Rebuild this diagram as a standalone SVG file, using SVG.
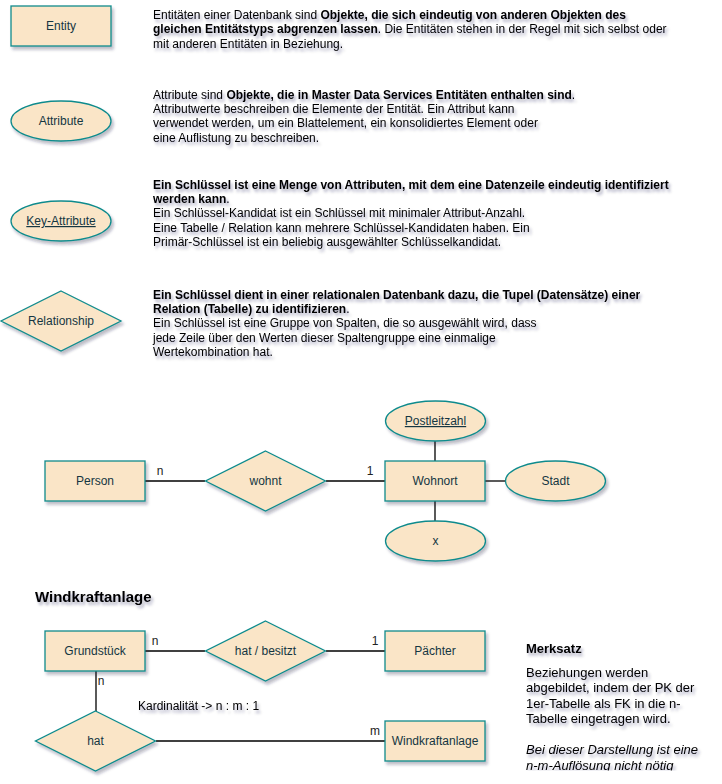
<svg xmlns="http://www.w3.org/2000/svg" width="722" height="784" viewBox="0 0 722 784">
<defs>
  <filter id="sh" x="-20%" y="-30%" width="150%" height="170%">
    <feDropShadow dx="2" dy="3" stdDeviation="1.5" flood-color="#1a2440" flood-opacity="0.3"/>
  </filter>
  <filter id="tsh" x="-10%" y="-30%" width="120%" height="170%">
    <feDropShadow dx="2" dy="3" stdDeviation="1.5" flood-color="#1a2440" flood-opacity="0.35"/>
  </filter>
  <clipPath id="clipBottom"><rect x="0" y="0" width="722" height="770.5"/></clipPath>
</defs>
<style>
  .shape { fill: #FAE5C7; stroke: #0F8B8D; stroke-width: 1.3; filter: url(#sh); }
  .lbl { font-family: "Liberation Sans", Arial, sans-serif; font-size: 12px; fill: #143642; text-anchor: middle; }
  .desc { font-family: "Liberation Sans", Arial, sans-serif; font-size: 12px; fill: #000; filter: url(#tsh); }
  .b { font-weight: bold; }
  .card { font-family: "Liberation Sans", Arial, sans-serif; font-size: 12px; fill: #222222; }
  .conn { stroke: #000; stroke-width: 1.3; fill: none; }
  .u { text-decoration: underline; }
</style>

<!-- Legend nodes -->
<g id="legend-entity">
  <rect class="shape" x="11" y="6" width="100" height="40"/>
  <text class="lbl" x="61" y="30">Entity</text>
</g>
<g id="legend-attribute">
  <ellipse class="shape" cx="61" cy="121" rx="50" ry="20"/>
  <text class="lbl" x="61" y="125">Attribute</text>
</g>
<g id="legend-key-attribute">
  <ellipse class="shape" cx="61" cy="221" rx="50" ry="20"/>
  <text class="lbl u" x="61" y="225">Key-Attribute</text>
</g>
<g id="legend-relationship">
  <polygon class="shape" points="61,291 121,321 61,351 1,321"/>
  <text class="lbl" x="61" y="325">Relationship</text>
</g>

<!-- Descriptions -->
<g id="desc-entity" class="desc">
  <text x="153" y="19">Entitäten einer Datenbank sind <tspan class="b">Objekte, die sich eindeutig von anderen Objekten des</tspan></text>
  <text x="153" y="33.4"><tspan class="b">gleichen Entitätstyps abgrenzen lassen</tspan>. Die Entitäten stehen in der Regel mit sich selbst oder</text>
  <text x="153" y="47.8">mit anderen Entitäten in Beziehung.</text>
</g>
<g id="desc-attribute" class="desc">
  <text x="153" y="98.6">Attribute sind <tspan class="b">Objekte, die in Master Data Services Entitäten enthalten sind</tspan>.</text>
  <text x="153" y="113">Attributwerte beschreiben die Elemente der Entität. Ein Attribut kann</text>
  <text x="153" y="127.4">verwendet werden, um ein Blattelement, ein konsolidiertes Element oder</text>
  <text x="153" y="141.8">eine Auflistung zu beschreiben.</text>
</g>
<g id="desc-key" class="desc">
  <text x="153" y="188.6" class="b">Ein Schlüssel ist eine Menge von Attributen, mit dem eine Datenzeile eindeutig identifiziert</text>
  <text x="153" y="203"><tspan class="b">werden kann</tspan>.</text>
  <text x="153" y="217.4">Ein Schlüssel-Kandidat ist ein Schlüssel mit minimaler Attribut-Anzahl.</text>
  <text x="153" y="231.8">Eine Tabelle / Relation kann mehrere Schlüssel-Kandidaten haben. Ein</text>
  <text x="153" y="246.2">Primär-Schlüssel ist ein beliebig ausgewählter Schlüsselkandidat.</text>
</g>
<g id="desc-relationship" class="desc">
  <text x="153" y="298.6" class="b">Ein Schlüssel dient in einer relationalen Datenbank dazu, die Tupel (Datensätze) einer</text>
  <text x="153" y="313"><tspan class="b">Relation (Tabelle) zu identifizieren</tspan>.</text>
  <text x="153" y="327.4">Ein Schlüssel ist eine Gruppe von Spalten, die so ausgewählt wird, dass</text>
  <text x="153" y="341.8">jede Zeile über den Werten dieser Spaltengruppe eine einmalige</text>
  <text x="153" y="356.2">Wertekombination hat.</text>
</g>

<!-- Connectors -->
<g id="connectors">
  <line class="conn" x1="145" y1="481" x2="205" y2="481"/>
  <line class="conn" x1="326" y1="481" x2="385" y2="481"/>
  <line class="conn" x1="435" y1="441" x2="435" y2="461"/>
  <line class="conn" x1="485" y1="481" x2="505" y2="481"/>
  <line class="conn" x1="435" y1="501" x2="435" y2="521"/>
  <line class="conn" x1="145" y1="651" x2="205" y2="651"/>
  <line class="conn" x1="326" y1="651" x2="385" y2="651"/>
  <line class="conn" x1="96" y1="671" x2="96" y2="711"/>
  <line class="conn" x1="156" y1="741" x2="385" y2="741"/>
</g>

<!-- Example 1 -->
<g id="person">
  <rect class="shape" x="45" y="461" width="100" height="40"/>
  <text class="lbl" x="95" y="485">Person</text>
</g>
<g id="wohnt">
  <polygon class="shape" points="265.5,451 325.5,481 265.5,511 205.5,481"/>
  <text class="lbl" x="265.5" y="485">wohnt</text>
</g>
<g id="wohnort">
  <rect class="shape" x="385" y="461" width="100" height="40"/>
  <text class="lbl" x="435" y="485">Wohnort</text>
</g>
<g id="postleitzahl">
  <ellipse class="shape" cx="435.5" cy="421" rx="50" ry="20"/>
  <text class="lbl u" x="435.5" y="425">Postleitzahl</text>
</g>
<g id="stadt">
  <ellipse class="shape" cx="555.5" cy="481" rx="50" ry="20"/>
  <text class="lbl" x="555.5" y="485">Stadt</text>
</g>
<g id="x-attr">
  <ellipse class="shape" cx="435.5" cy="541" rx="50" ry="20"/>
  <text class="lbl" x="435.5" y="545">x</text>
</g>
<g id="cards-1">
  <text class="card" x="160" y="475" text-anchor="middle">n</text>
  <text class="card" x="370" y="475" text-anchor="middle">1</text>
</g>

<!-- Example 2 -->
<text x="35" y="602" font-family="'Liberation Sans', Arial, sans-serif" font-size="15" font-weight="bold" fill="#000" filter="url(#tsh)">Windkraftanlage</text>
<g id="grundstueck">
  <rect class="shape" x="45" y="631" width="100" height="40"/>
  <text class="lbl" x="95" y="655">Grundstück</text>
</g>
<g id="hat-besitzt">
  <polygon class="shape" points="265.5,621 325.5,651 265.5,681 205.5,651"/>
  <text class="lbl" x="265.5" y="655">hat / besitzt</text>
</g>
<g id="paechter">
  <rect class="shape" x="385" y="631" width="100" height="40"/>
  <text class="lbl" x="435" y="655">Pächter</text>
</g>
<g id="hat">
  <polygon class="shape" points="95.5,711 155.5,741 95.5,771 35.5,741"/>
  <text class="lbl" x="95.5" y="745">hat</text>
</g>
<g id="windkraftanlage">
  <rect class="shape" x="385" y="721" width="100" height="40"/>
  <text class="lbl" x="435" y="745">Windkraftanlage</text>
</g>
<g id="cards-2">
  <text class="card" x="155" y="645" text-anchor="middle">n</text>
  <text class="card" x="375" y="645" text-anchor="middle">1</text>
  <text class="card" x="101" y="685" text-anchor="middle">n</text>
  <text class="card" x="375" y="735" text-anchor="middle">m</text>
</g>
<text class="desc" x="138" y="710">Kardinalität -&gt; n : m : 1</text>

<!-- Merksatz -->
<g id="merksatz" clip-path="url(#clipBottom)" font-family="'Liberation Sans', Arial, sans-serif" font-size="13" fill="#000" filter="url(#tsh)">
  <text x="526" y="652.5" font-weight="bold">Merksatz</text>
  <text x="526" y="676.5">Beziehungen werden</text>
  <text x="526" y="692">abgebildet, indem der PK der</text>
  <text x="526" y="707.6">1er-Tabelle als FK in die n-</text>
  <text x="526" y="723.2">Tabelle eingetragen wird.</text>
  <text x="526" y="754.4" font-style="italic">Bei dieser Darstellung ist eine</text>
  <text x="526" y="770" font-style="italic">n-m-Auflösung nicht nötig</text>
</g>
</svg>
